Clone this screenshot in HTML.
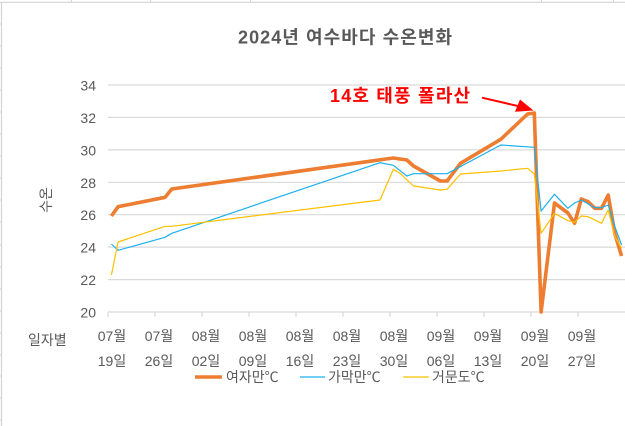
<!DOCTYPE html>
<html><head><meta charset="utf-8"><style>
html,body{margin:0;padding:0;background:#fff;}
svg{display:block;}
text{font-family:"Liberation Sans","Noto Sans CJK KR",sans-serif;}
</style></head><body>
<svg width="625" height="426" viewBox="0 0 625 426" xmlns="http://www.w3.org/2000/svg">
<rect width="625" height="426" fill="#fff"/>
<!-- sheet edges -->
<line x1="1.5" y1="2" x2="1.5" y2="426" stroke="#d4d4d4" stroke-width="1.2"/>
<line x1="0" y1="2.3" x2="625" y2="2.3" stroke="#d4d4d4" stroke-width="1.2"/>
<g stroke="#d4d4d4" stroke-width="1">
<line x1="71.5" y1="0" x2="71.5" y2="2"/><line x1="150.5" y1="0" x2="150.5" y2="2"/><line x1="250.5" y1="0" x2="250.5" y2="2"/>
<line x1="541.5" y1="0" x2="541.5" y2="2"/><line x1="613.5" y1="0" x2="613.5" y2="2"/>
<line x1="0" y1="24" x2="1" y2="24"/><line x1="0" y1="46" x2="1" y2="46"/><line x1="0" y1="68" x2="1" y2="68"/>
<line x1="0" y1="90" x2="1" y2="90"/><line x1="0" y1="112" x2="1" y2="112"/><line x1="0" y1="134" x2="1" y2="134"/>
<line x1="0" y1="156" x2="1" y2="156"/><line x1="0" y1="178" x2="1" y2="178"/><line x1="0" y1="200" x2="1" y2="200"/>
<line x1="0" y1="222" x2="1" y2="222"/><line x1="0" y1="245" x2="1" y2="245"/><line x1="0" y1="267" x2="1" y2="267"/>
<line x1="0" y1="289" x2="1" y2="289"/><line x1="0" y1="311" x2="1" y2="311"/><line x1="0" y1="333" x2="1" y2="333"/>
<line x1="0" y1="355" x2="1" y2="355"/><line x1="0" y1="376" x2="1" y2="376"/><line x1="0" y1="398" x2="1" y2="398"/>
<line x1="0" y1="420" x2="1" y2="420"/>
</g>
<!-- title -->
<text x="238" y="43.5" font-size="18" font-weight="bold" fill="#595959" textLength="214" lengthAdjust="spacing">2024년 여수바다 수온변화</text>
<!-- gridlines -->
<g stroke="#d9d9d9" stroke-width="1.2">
<line x1="108" y1="85" x2="625" y2="85"/>
<line x1="108" y1="117.4" x2="625" y2="117.4"/>
<line x1="108" y1="149.9" x2="625" y2="149.9"/>
<line x1="108" y1="182.3" x2="625" y2="182.3"/>
<line x1="108" y1="214.7" x2="625" y2="214.7"/>
<line x1="108" y1="247.1" x2="625" y2="247.1"/>
<line x1="108" y1="279.6" x2="625" y2="279.6"/>
<line x1="108" y1="312" x2="625" y2="312"/>
</g>
<g stroke="#d9d9d9" stroke-width="1.2">
<line x1="108" y1="312" x2="108" y2="317"/><line x1="155" y1="312" x2="155" y2="317"/>
<line x1="202" y1="312" x2="202" y2="317"/><line x1="249" y1="312" x2="249" y2="317"/>
<line x1="296" y1="312" x2="296" y2="317"/><line x1="343" y1="312" x2="343" y2="317"/>
<line x1="390" y1="312" x2="390" y2="317"/><line x1="437" y1="312" x2="437" y2="317"/>
<line x1="484" y1="312" x2="484" y2="317"/><line x1="531" y1="312" x2="531" y2="317"/>
<line x1="578" y1="312" x2="578" y2="317"/>
</g>
<!-- y labels -->
<g font-size="14" fill="#595959" text-anchor="end">
<text x="96" y="90.5">34</text>
<text x="96" y="122.9">32</text>
<text x="96" y="155.4">30</text>
<text x="96" y="187.8">28</text>
<text x="96" y="220.2">26</text>
<text x="96" y="252.6">24</text>
<text x="96" y="285.1">22</text>
<text x="96" y="317.5">20</text>
</g>
<text transform="translate(51,200) rotate(-90)" font-size="14" fill="#595959" text-anchor="middle">수온</text>
<text x="28" y="345" font-size="14" fill="#595959">일자별</text>
<!-- x labels -->
<g font-size="14" fill="#595959" text-anchor="middle">
<text x="112" y="341">07월</text><text x="112" y="366">19일</text>
<text x="159" y="341">07월</text><text x="159" y="366">26일</text>
<text x="206" y="341">08월</text><text x="206" y="366">02일</text>
<text x="253" y="341">08월</text><text x="253" y="366">09일</text>
<text x="300" y="341">08월</text><text x="300" y="366">16일</text>
<text x="347" y="341">08월</text><text x="347" y="366">23일</text>
<text x="394" y="341">08월</text><text x="394" y="366">30일</text>
<text x="441" y="341">09월</text><text x="441" y="366">06일</text>
<text x="488" y="341">09월</text><text x="488" y="366">13일</text>
<text x="535" y="341">09월</text><text x="535" y="366">20일</text>
<text x="582" y="341">09월</text><text x="582" y="366">27일</text>
</g>
<!-- series -->
<polyline fill="none" stroke="#ED7D31" stroke-width="3.6" stroke-linejoin="round" points="111.4,216 118.1,206.7 165.1,197.3 171.8,189 393.4,158 406.8,160 413.5,166 440.4,181 447.1,181 460.5,163.3 500.8,139.3 527.6,114 534.3,113 541.1,312 554.5,203 567.9,213 574.6,223.3 581.3,199 588.1,201.7 594.8,208.3 601.5,208.3 608.2,195 614.9,234 621.6,256"/>
<polyline fill="none" stroke="#1CB0EE" stroke-width="1.2" stroke-linejoin="round" points="111.4,244 118.1,250.3 165.1,237.3 171.8,233.3 380,162.7 393.4,165.3 406.8,176 413.5,173.7 447.1,173.7 500.8,145 534.3,147.3 541.1,211 554.5,194.3 567.9,208.3 574.6,203 581.3,200 594.8,207.7 601.5,207.7 608.2,205 614.9,226.7 621.6,245"/>
<polyline fill="none" stroke="#FFC000" stroke-width="1.2" stroke-linejoin="round" points="111.4,275 118.1,242 165.1,226.3 171.8,226.3 380,200 393.4,169.3 400.1,173.3 413.5,186 440.4,190 447.1,189.3 460.5,174 500.8,171 527.6,168.3 534.3,174 541.1,233.3 554.5,213.3 567.9,220.7 574.6,222.3 581.3,216 588.1,216.7 601.5,223.3 608.2,210 614.9,236.7 621.6,248.3"/>
<!-- annotation -->
<text x="330" y="102" font-size="18" font-weight="bold" fill="#FF0000" textLength="140" lengthAdjust="spacing">14호 태풍 폴라산</text>
<line x1="482" y1="97.7" x2="520" y2="106.5" stroke="#FF0000" stroke-width="2"/>
<polygon points="533.5,110.5 520,99.5 515,111.7" fill="#FF0000"/>
<!-- legend -->
<line x1="195" y1="377" x2="222" y2="377" stroke="#ED7D31" stroke-width="3.6"/>
<text x="226" y="382" font-size="14" fill="#595959">여자만℃</text>
<line x1="300" y1="377" x2="325" y2="377" stroke="#1CB0EE" stroke-width="1.2"/>
<text x="328" y="382" font-size="14" fill="#595959">가막만℃</text>
<line x1="403" y1="377" x2="429" y2="377" stroke="#FFC000" stroke-width="1.2"/>
<text x="432" y="382" font-size="14" fill="#595959">거문도℃</text>
</svg>
</body></html>
